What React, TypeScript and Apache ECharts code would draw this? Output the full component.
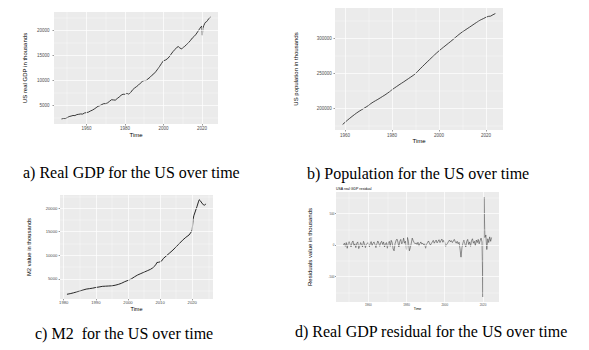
import React, { useEffect, useRef } from "react";
import * as echarts from "echarts";

// ---------- data ----------
const gdpYears = [
  1947, 1948, 1949, 1950, 1951, 1952, 1953, 1954, 1955, 1956, 1957, 1958, 1959,
  1960, 1961, 1962, 1963, 1964, 1965, 1966, 1967, 1968, 1969,
  1970, 1971, 1972, 1973, 1974, 1975, 1976, 1977, 1978, 1979,
  1980, 1981, 1982, 1983, 1984, 1985, 1986, 1987, 1988, 1989,
  1990, 1991, 1992, 1993, 1994, 1995, 1996, 1997, 1998, 1999,
  2000, 2001, 2002, 2003, 2004, 2005, 2006, 2007, 2007.75, 2008.5, 2009.5,
  2010, 2011, 2012, 2013, 2014, 2015, 2016, 2017, 2018,
  2019, 2019.5, 2020, 2020.25, 2020.5, 2021, 2021.5, 2022, 2022.5, 2023, 2023.5, 2024, 2024.5,
];
const gdpValues = [
  2200, 2280, 2270, 2470, 2670, 2770, 2890, 2870, 3070, 3130, 3200, 3170, 3390,
  3470, 3560, 3780, 3950, 4180, 4450, 4740, 4870, 5100, 5270,
  5280, 5440, 5740, 6060, 6020, 5980, 6310, 6600, 6960, 7180,
  7160, 7340, 7200, 7530, 8070, 8410, 8700, 9000, 9390, 9740,
  9930, 9920, 10270, 10560, 10980, 11270, 11700, 12220, 12760, 13360,
  13900, 14040, 14280, 14690, 15240, 15760, 16180, 16610, 16760, 16500, 16270,
  16520, 16780, 17160, 17530, 17960, 18480, 18820, 19270, 19850,
  20450, 20750, 20850, 19050, 20450, 21000, 21450, 21700, 21800, 22050, 22350, 22550, 22700,
];

const popYears = [
  1959, 1960, 1961, 1962, 1963, 1964, 1965, 1966, 1967, 1968, 1969,
  1970, 1971, 1972, 1973, 1974, 1975, 1976, 1977, 1978, 1979,
  1980, 1981, 1982, 1983, 1984, 1985, 1986, 1987, 1988, 1989,
  1990, 1991, 1992, 1993, 1994, 1995, 1996, 1997, 1998, 1999,
  2000, 2001, 2002, 2003, 2004, 2005, 2006, 2007, 2008, 2009,
  2010, 2011, 2012, 2013, 2014, 2015, 2016, 2017, 2018, 2019,
  2020, 2021, 2022, 2023, 2024,
];
const popValues = [
  176500, 179500, 182500, 185300, 188000, 190600, 193100, 195400, 197500, 199600, 201600,
  203800, 206500, 208700, 210700, 212600, 214700, 216800, 218900, 221200, 223700,
  226300, 228800, 231100, 233400, 235600, 237800, 240100, 242400, 244700, 247000,
  249600, 253000, 256500, 259900, 263200, 266500, 269700, 273000, 276200, 279300,
  282300, 285100, 287800, 290500, 293200, 295900, 298700, 301600, 304500, 307200,
  309700, 311900, 314200, 316400, 318700, 321000, 323300, 325500, 327300, 328900,
  330700, 331900, 332300, 334300, 336000,
];

const m2Years = [
  1981, 1982, 1983, 1984, 1985, 1986, 1987, 1988, 1989,
  1990, 1991, 1992, 1993, 1994, 1995, 1996, 1997, 1998, 1999,
  2000, 2001, 2002, 2003, 2004, 2005, 2006, 2007, 2008, 2008.75, 2009, 2009.5,
  2010, 2010.5, 2011, 2012, 2013, 2014, 2015, 2016, 2017, 2018, 2019, 2019.75,
  2020, 2020.25, 2020.5, 2021, 2021.5, 2022, 2022.2, 2022.5, 2023, 2023.5, 2023.8, 2024.1, 2024.3,
];
const m2Values = [
  1700, 1830, 2000, 2200, 2400, 2600, 2800, 2900, 3000,
  3150, 3250, 3380, 3420, 3460, 3500, 3620, 3800, 4050, 4380,
  4650, 4950, 5400, 5800, 6100, 6400, 6700, 7000, 7450, 8100, 8450, 8500,
  8600, 8800, 9300, 9900, 10500, 11100, 11800, 12500, 13200, 13800, 14300, 15000,
  15400, 17600, 18400, 19400, 20400, 21500, 21800, 21600, 21100, 20700, 20650, 20800, 20900,
];

const residStart = 1947;
const residStep = 0.5;
const residValues = [
  // 1947-1959
  0, 30, -20, 40, -50, 20, 55, 10, -30, 40, 65, -10, 20, -40, 30, 50, -55, -20, 40, 10, -30, 60, 20, -40, 10, 30,
  // 1960-1969
  40, -30, 20, 55, -10, 30, 50, 10, -40, 20, 65, 30, -20, 40, 60, 10, 50, -30, 20, 40,
  // 1970-1979
  -50, 30, 60, -20, 75, 40, -60, -90, 20, 70, 95, 50, -30, 60, 90, 20, 40, 110, 30, 60,
  // 1980-1989
  -70, 120, 60, -90, -40, 30, 110, 70, 40, 20, 35, 10, 45, -15, 25, 50, 15, 30, 5, 20,
  // 1990-1999
  -50, 15, 40, 65, 30, 0, 25, 50, 75, 30, 55, 80, 35, 60, 85, 40, 70, 95, 45, 75,
  // 2000-2007
  40, -20, 10, 30, 60, 80, 50, 70, 40, 65, 90, 55, 30, 60, 20, 45,
  // 2008-2009
  -60, -190, -40, 30,
  // 2010-2019
  80, 20, -30, 60, 90, 10, 50, -20, 70, 100, 30, 60, -10, 80, 40, 90, 20, 70, 110, 50,
  // 2020
  -820, 760,
  // 2021-2024
  120, 160, -70, 100, 40, 130, 60, 120,
];

const yearTicks20 = [1960, 1980, 2000, 2020];
const yearMinor20 = [1950, 1970, 1990, 2010];
const yearTicks20b = [1960, 1980, 2000, 2020];
const yearMinor20b = [1970, 1990, 2010];
const yearTicks10 = [1980, 1990, 2000, 2010, 2020];
const yearMinor10 = [1985, 1995, 2005, 2015, 2025];
const gdpYTicks = [5000, 10000, 15000, 20000];
const gdpYMinor = [2500, 7500, 12500, 17500, 22500];
const popYTicks = [200000, 250000, 300000];
const popYMinor = [175000, 225000, 275000, 325000];
const m2YTicks = [5000, 10000, 15000, 20000];
const m2YMinor = [2500, 7500, 12500, 17500, 22500];
const resYTicks = [-500, 0, 500];
const resYMinor = [-750, -250, 250, 750];

const captions = [
  "a) Real GDP for the US over time",
  "b) Population for the US over time",
  "c) M2  for the US over time",
  "d) Real GDP residual for the US over time",
];

// ---------- helpers ----------
const padRange = (arr: number[]) => {
  const lo = Math.min(...arr);
  const hi = Math.max(...arr);
  const p = (hi - lo) * 0.05;
  return [lo - p, hi + p];
};

const SANS = "Liberation Sans";

type PanelCfg = {
  grid: { left: number; top: number; width: number; height: number };
  xs: number[];
  ys: number[];
  xTicks: number[];
  xMinor: number[];
  yTicks: number[];
  yMinor: number[];
  yName: string;
  tickFont: number;
  nameFont: number;
  xNameFont: number;
  yLabelMargin: number;
  xLabelMargin: number;
  xNameGap: number;
  yNameGap: number;
  tickLen: number;
  lineColor: string;
  lineWidth: number;
};

export default function App() {
  const ref = useRef<HTMLDivElement>(null);

  useEffect(() => {
    if (!ref.current) return;
    const chart = echarts.init(ref.current, undefined, { renderer: "svg" });

    const residYears = residValues.map((_, i) => residStart + i * residStep);

    const panels: PanelCfg[] = [
      {
        grid: { left: 54, top: 12, width: 164, height: 112 },
        xs: gdpYears, ys: gdpValues,
        xTicks: yearTicks20, xMinor: yearMinor20, yTicks: gdpYTicks, yMinor: gdpYMinor,
        yName: "US real GDP in thousands",
        tickFont: 4.5, nameFont: 6, xNameFont: 6, yLabelMargin: 4.5, xLabelMargin: 2,
        xNameGap: 6, yNameGap: 26, tickLen: 1.5, lineColor: "#1a1a1a", lineWidth: 0.85,
      },
      {
        grid: { left: 335, top: 8, width: 168, height: 122 },
        xs: popYears, ys: popValues,
        xTicks: yearTicks20b, xMinor: yearMinor20b, yTicks: popYTicks, yMinor: popYMinor,
        yName: "US population in thousands",
        tickFont: 4.5, nameFont: 6, xNameFont: 6, yLabelMargin: 3.3, xLabelMargin: 2.5,
        xNameGap: 8, yNameGap: 36, tickLen: 1.5, lineColor: "#1a1a1a", lineWidth: 0.8,
      },
      {
        grid: { left: 60, top: 195, width: 153, height: 104 },
        xs: m2Years, ys: m2Values,
        xTicks: yearTicks10, xMinor: yearMinor10, yTicks: m2YTicks, yMinor: m2YMinor,
        yName: "M2 value in thousands",
        tickFont: 4.2, nameFont: 5.8, xNameFont: 5.5, yLabelMargin: 2.7, xLabelMargin: 1.6,
        xNameGap: 7, yNameGap: 28, tickLen: 1.4, lineColor: "#111", lineWidth: 0.9,
      },
      {
        grid: { left: 336, top: 192, width: 163, height: 110 },
        xs: residYears, ys: residValues,
        xTicks: yearTicks20, xMinor: yearMinor20, yTicks: resYTicks, yMinor: resYMinor,
        yName: "Residuals value in thousands",
        tickFont: 3, nameFont: 6, xNameFont: 3.5, yLabelMargin: 1.5, xLabelMargin: 1,
        xNameGap: 3, yNameGap: 23, tickLen: 1, lineColor: "#3a3a3a", lineWidth: 0.55,
      },
    ];

    const grids: any[] = [];
    const xAxes: any[] = [];
    const yAxes: any[] = [];
    const series: any[] = [];

    panels.forEach((p, i) => {
      grids.push({
        ...p.grid,
        show: true,
        backgroundColor: "#EBEBEB",
        borderWidth: 0,
        containLabel: false,
      });
      const [xmin, xmax] = padRange(p.xs);
      const [ymin, ymax] = padRange(p.ys);
      const tickStyle = { color: "#333", width: 0.5 };
      xAxes.push({
        type: "value",
        gridIndex: i,
        min: xmin,
        max: xmax,
        name: "Time",
        nameLocation: "middle",
        nameGap: p.xNameGap,
        nameTextStyle: { fontSize: p.xNameFont, color: "#000", fontFamily: SANS, verticalAlign: "top" },
        axisLine: { show: false },
        axisTick: { show: true, length: p.tickLen, lineStyle: tickStyle, customValues: p.xTicks },
        axisLabel: {
          show: true,
          customValues: p.xTicks,
          fontSize: p.tickFont,
          color: "#4D4D4D",
          fontFamily: SANS,
          margin: p.xLabelMargin,
          formatter: (v: number) => String(v),
        },
        splitLine: { show: false },
      });
      yAxes.push({
        type: "value",
        gridIndex: i,
        min: ymin,
        max: ymax,
        name: p.yName,
        nameLocation: "middle",
        nameGap: p.yNameGap,
        nameTextStyle: { fontSize: p.nameFont, color: "#000", fontFamily: SANS },
        axisLine: { show: false },
        axisTick: { show: true, length: p.tickLen, lineStyle: tickStyle, customValues: p.yTicks },
        axisLabel: {
          show: true,
          customValues: p.yTicks,
          fontSize: p.tickFont,
          color: "#4D4D4D",
          fontFamily: SANS,
          margin: p.yLabelMargin,
          formatter: (v: number) => String(v),
        },
        splitLine: { show: false },
      });

      const major = { color: "#FFFFFF", width: 0.7, type: "solid" };
      const minor = { color: "#FFFFFF", width: 0.35, type: "solid" };
      series.push({
        type: "line",
        xAxisIndex: i,
        yAxisIndex: i,
        data: [],
        z: 1,
        silent: true,
        markLine: {
          silent: true,
          symbol: ["none", "none"],
          label: { show: false },
          emphasis: { disabled: true },
          data: [
            ...p.xMinor.map((v) => ({ xAxis: v, lineStyle: minor })),
            ...p.yMinor.map((v) => ({ yAxis: v, lineStyle: minor })),
            ...p.xTicks.map((v) => ({ xAxis: v, lineStyle: major })),
            ...p.yTicks.map((v) => ({ yAxis: v, lineStyle: major })),
          ],
        },
      });
      series.push({
        type: "line",
        xAxisIndex: i,
        yAxisIndex: i,
        data: p.xs.map((x, k) => [x, p.ys[k]]),
        showSymbol: false,
        symbol: "none",
        z: 3,
        silent: true,
        lineStyle: { color: p.lineColor, width: p.lineWidth },
      });
    });

    const serif = "Liberation Serif";
    const captionPos = [
      [23, 172],
      [307, 173],
      [35, 333],
      [295, 331],
    ];

    chart.setOption({
      animation: false,
      backgroundColor: "#FFFFFF",
      grid: grids,
      xAxis: xAxes,
      yAxis: yAxes,
      series,
      graphic: [
        ...captions.map((c, i) => ({
          type: "text",
          x: captionPos[i][0],
          y: captionPos[i][1],
          style: {
            text: c,
            fontSize: 16,
            fontFamily: serif,
            fill: "#000",
            verticalAlign: "middle",
            align: "left",
          },
        })),
        {
          type: "text",
          x: 336,
          y: 189,
          style: {
            text: "USA real GDP residual",
            fontSize: 3.5,
            fontFamily: SANS,
            fill: "#000",
            verticalAlign: "middle",
            align: "left",
          },
        },
      ],
    });

    return () => {
      chart.dispose();
    };
  }, []);

  return (
    <div
      ref={ref}
      style={{ position: "absolute", left: 0, top: 0, width: 589, height: 350, background: "#fff" }}
    />
  );
}
